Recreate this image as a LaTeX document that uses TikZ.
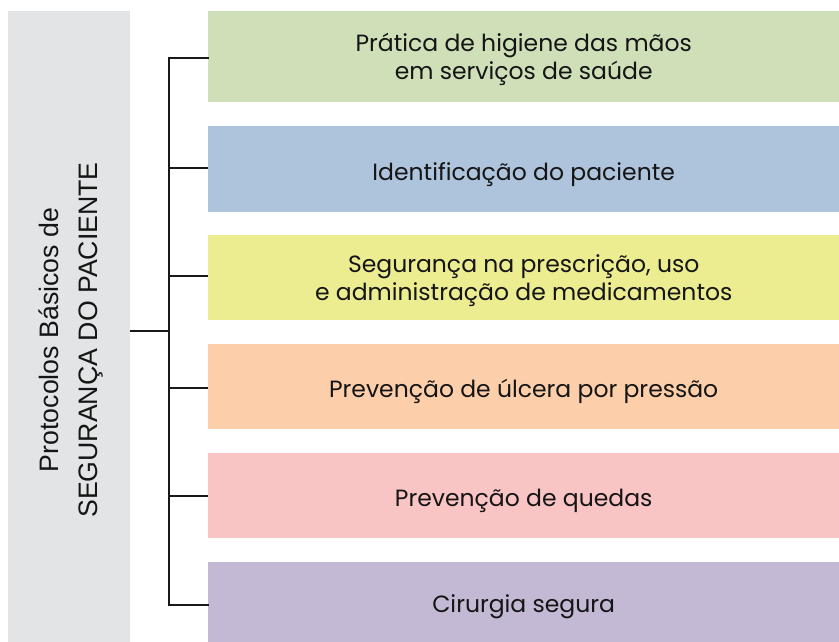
\documentclass[tikz,border=0pt]{standalone}
\usepackage{fontspec}
\setmainfont{Poppins}
\newfontfamily\leftfont{Liberation Sans}
\definecolor{cgray}{HTML}{E3E4E5}
\definecolor{cgreen}{HTML}{CFE0B9}
\definecolor{cblue}{HTML}{AEC4DC}
\definecolor{cyellow}{HTML}{ECEC91}
\definecolor{corange}{HTML}{FCCFAA}
\definecolor{cpink}{HTML}{F8C4C4}
\definecolor{cpurple}{HTML}{C3B9D4}
\definecolor{ctext}{HTML}{151515}
\begin{document}
\begin{tikzpicture}[x=1pt,y=-1pt,
  protbox/.style={anchor=north west, inner sep=0pt, minimum width=631pt},
  prottext/.style={inner sep=0pt, align=center, text=ctext, font=\fontsize{23.5}{28}\selectfont},
  conn/.style={line width=1.5pt, black!90}]
\useasboundingbox (0,0) rectangle (839,642);
\fill[cgray] (8,11) rectangle (130,642);
\node[rotate=90, align=center, font=\leftfont\fontsize{26.7}{39}\selectfont, text=ctext] (root) at (71,340)
  {Protocolos Básicos de\\SEGURANÇA DO PACIENTE};
\coordinate (rootR) at (130,331);
\coordinate (jn) at (169,331);
\node[protbox, fill=cgreen, minimum height=91pt] (b1) at (208,11) {};
\node[protbox, fill=cblue, minimum height=86pt] (b2) at (208,126) {};
\node[protbox, fill=cyellow, minimum height=85pt] (b3) at (208,235) {};
\node[protbox, fill=corange, minimum height=85pt] (b4) at (208,344) {};
\node[protbox, fill=cpink, minimum height=85pt] (b5) at (208,453) {};
\node[protbox, fill=cpurple, minimum height=80pt] (b6) at (208,562) {};
\node[prottext] (t1) at ([yshift=-3pt]b1.center) {Prática de higiene das mãos\\em serviços de saúde};
\node[prottext] (t2) at ([yshift=-5pt]b2.center) {Identificação do paciente};
\node[prottext] (t3) at ([yshift=-3pt]b3.center) {Segurança na prescrição, uso\\e administração de medicamentos};
\node[prottext] (t4) at ([yshift=-5pt]b4.center) {Prevenção de úlcera por pressão};
\node[prottext] (t5) at ([yshift=-5pt]b5.center) {Prevenção de quedas};
\node[prottext] (t6) at ([yshift=-5pt]b6.center) {Cirurgia segura};
\draw[conn] (rootR) -- (jn);
\draw[conn, line cap=rect] (b1.west |- 0,58) -- (169,58) -- (169,605) -- (b6.west |- 0,605);
\foreach \b/\y in {b2/168, b3/276, b4/388, b5/496}
  \draw[conn] (169,\y) -- (\b.west |- 0,\y);
\end{tikzpicture}
\end{document}
